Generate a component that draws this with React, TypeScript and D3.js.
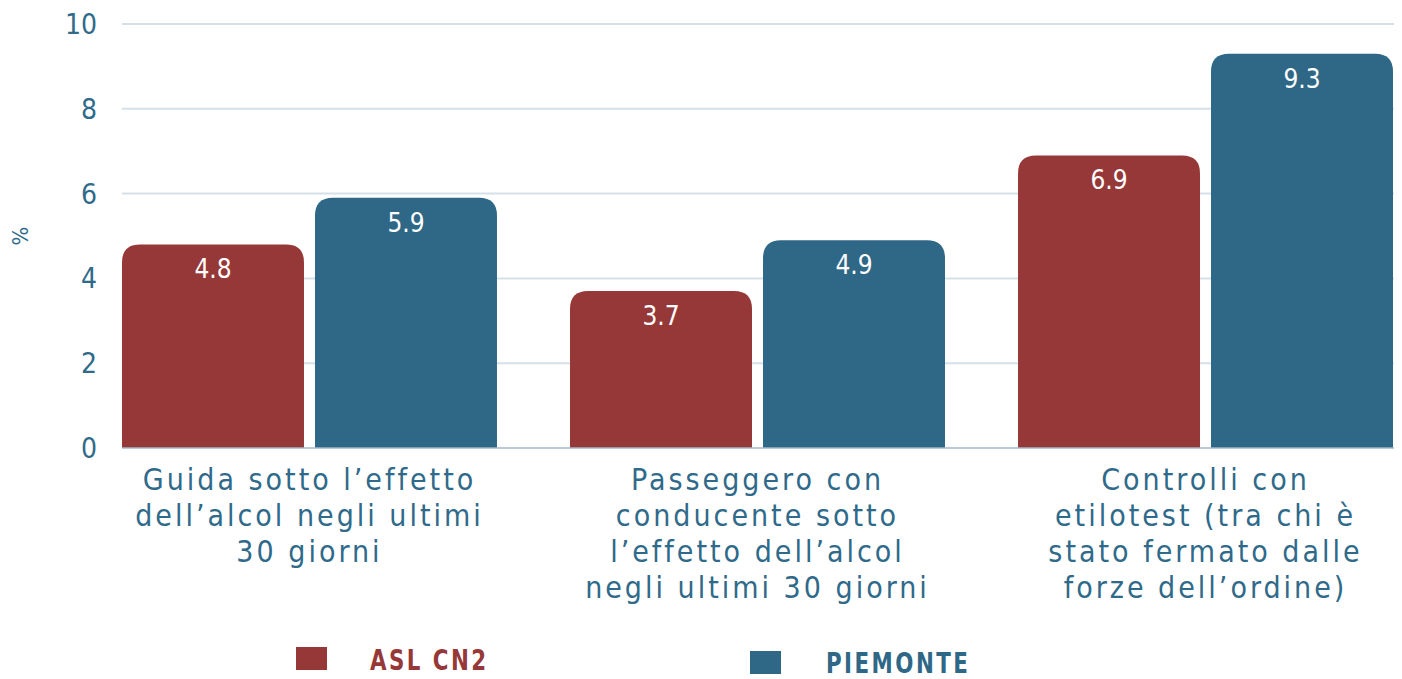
import React from 'react';
import * as d3 from 'd3';

const categories = [
  ['Guida sotto l’effetto', 'dell’alcol negli ultimi', '30 giorni'],
  ['Passeggero con', 'conducente sotto', 'l’effetto dell’alcol', 'negli ultimi 30 giorni'],
  ['Controlli con', 'etilotest (tra chi è', 'stato fermato dalle', 'forze dell’ordine)'],
];
const seriesNames = ['ASL CN2', 'PIEMONTE'];
const aslValues = [4.8, 3.7, 6.9];
const piemonteValues = [5.9, 4.9, 9.3];
const yTicks = [0, 2, 4, 6, 8, 10];

const colors = ['#963837', '#2f6787'];
const textColor = '#2f6a8a';
const font = "'DejaVu Sans Condensed', 'Liberation Sans Narrow', 'Roboto', sans-serif";

const width = 1402;
const height = 679;
const margin = { top: 24, right: 8, bottom: 231, left: 122 };

// rounded top corners only
function barPath(x: number, y: number, w: number, h: number, r: number) {
  const rr = Math.min(r, h, w / 2);
  return `M${x},${y + h}V${y + rr}Q${x},${y} ${x + rr},${y}H${x + w - rr}Q${x + w},${y} ${x + w},${y + rr}V${y + h}Z`;
}

export default function App() {
  const innerBottom = height - margin.bottom;
  const x0 = d3
    .scaleBand<number>()
    .domain(categories.map((_, i) => i))
    .range([margin.left, 1393])
    .paddingInner(0.163)
    .paddingOuter(0);
  const x1 = d3.scaleBand<number>().domain([0, 1]).range([0, x0.bandwidth()]).paddingInner(0.057);
  const y = d3.scaleLinear().domain([0, 10]).range([innerBottom, margin.top]);
  const series = [aslValues, piemonteValues];
  const legendPos = [
    { sx: 296, sy: 647, tx: 370, ty: 670 },
    { sx: 750, sy: 651, tx: 826, ty: 673 },
  ];

  return (
    <div style={{ position: 'absolute', left: 0, top: 0 }}>
      <svg width={width} height={height} style={{ display: 'block', background: '#fff' }}>
        {/* grid */}
        {yTicks.map((t) => (
          <g key={t}>
            {t > 0 && (
              <line x1={margin.left} x2={1394} y1={y(t)} y2={y(t)} stroke="#d5e1e8" strokeWidth={2} />
            )}
            <text
              x={97}
              y={y(t)}
              dy="0.36em"
              textAnchor="end"
              fontFamily={font}
              fontSize={28}
              fill={textColor}
            >
              {t}
            </text>
          </g>
        ))}
        <text
          transform={`translate(28,236) rotate(-90)`}
          textAnchor="middle"
          fontFamily={font}
          fontSize={22}
          fill={textColor}
        >
          %
        </text>

        {/* bars */}
        {series.map((vals, s) =>
          vals.map((v, i) => {
            const bx = (x0(i) || 0) + (x1(s) || 0);
            const by = y(v);
            const bw = x1.bandwidth();
            return (
              <g key={`${s}-${i}`}>
                <path d={barPath(bx, by, bw, innerBottom - by, 18)} fill={colors[s]} />
                <text
                  x={bx + bw / 2}
                  y={by + 34}
                  textAnchor="middle"
                  fontFamily={font}
                  fontSize={26}
                  fill="#fff"
                >
                  {v.toFixed(1)}
                </text>
              </g>
            );
          }),
        )}
        <line x1={margin.left} x2={1394} y1={innerBottom} y2={innerBottom} stroke="#9fb9c9" strokeWidth={1.5} />

        {/* category labels */}
        {categories.map((lines, i) => (
          <text
            key={i}
            x={(x0(i) || 0) + x0.bandwidth() / 2}
            y={490}
            textAnchor="middle"
            fontFamily={font}
            fontSize={30}
            letterSpacing={3}
            fill={textColor}
          >
            {lines.map((l, j) => (
              <tspan key={j} x={(x0(i) || 0) + x0.bandwidth() / 2} dy={j === 0 ? 0 : 36}>
                {l}
              </tspan>
            ))}
          </text>
        ))}

        {/* legend */}
        {seriesNames.map((name, s) => (
          <g key={name}>
            <rect x={legendPos[s].sx} y={legendPos[s].sy} width={31} height={23} fill={colors[s]} />
            <text
              transform={`translate(${legendPos[s].tx},${legendPos[s].ty}) scale(0.82,1)`}
              fontFamily={font}
              fontSize={29}
              fontWeight="bold"
              letterSpacing={3}
              fill={colors[s]}
            >
              {name}
            </text>
          </g>
        ))}
      </svg>
    </div>
  );
}
